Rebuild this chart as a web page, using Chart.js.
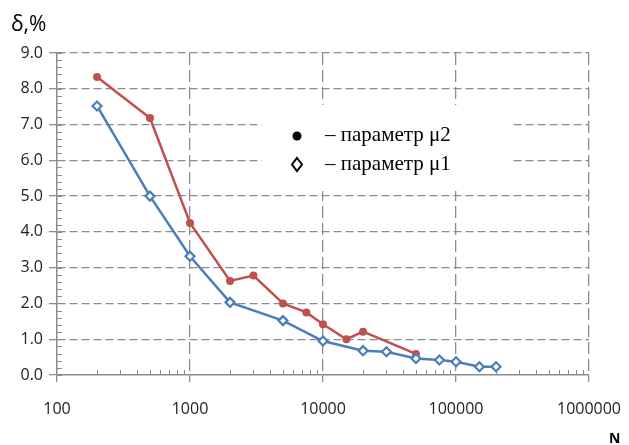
<!DOCTYPE html>
<html>
<head>
<meta charset="utf-8">
<script src="https://cdn.jsdelivr.net/npm/chart.js@4/dist/chart.umd.min.js"></script>
<style>
  html, body { margin: 0; padding: 0; background: #fff; }
  #wrap { position: relative; width: 629px; height: 445px; }
</style>
</head>
<body>
<div id="wrap"><canvas id="chart" width="629" height="445"></canvas></div>
<script>
// N values and delta (%)
const nMu1 = [200, 500, 1000, 2000, 5000, 10000, 20000, 30000, 50000, 75000, 100000, 150000, 200000];
const deltaMu1 = [7.52, 5.0, 3.32, 2.03, 1.52, 0.95, 0.68, 0.65, 0.46, 0.42, 0.37, 0.23, 0.23];

const nMu2 = [200, 500, 1000, 2000, 3000, 5000, 7500, 10000, 15000, 20000, 50000];
const deltaMu2 = [8.33, 7.18, 4.25, 2.63, 2.78, 2.0, 1.75, 1.42, 1.0, 1.21, 0.59];

const xMin = 100;
const xMax = 1000000;
const yMin = 0;
const yMax = 9;

const legendLines = ["– параметр μ2", "– параметр μ1"];
const yTitle = "δ,%";
const xTitle = "N";

const GRID = "#8c8c8c";
const AXIS = "#8c8c8c";
const RED = "#c0504d";
const BLUE = "#4a7ebb";
const TICK_FONT = { family: "'Open Sans', sans-serif", size: 16 };

function toPoints(xs, ys) {
  return xs.map((x, i) => ({ x: x, y: ys[i] }));
}

// minor ticks, legend box and axis titles
const decorations = {
  id: "decorations",
  beforeDatasetsDraw(chart) {
    const ctx = chart.ctx;
    const x = chart.scales.x;
    const y = chart.scales.y;
    const area = chart.chartArea;

    ctx.save();
    ctx.strokeStyle = AXIS;
    ctx.lineWidth = 1;

    // minor ticks on the y axis, every 0.2
    for (let v = yMin; v <= yMax + 1e-9; v += 0.2) {
      const py = Math.round(y.getPixelForValue(v)) + 0.5;
      ctx.beginPath();
      ctx.moveTo(area.left, py);
      ctx.lineTo(area.left + 5, py);
      ctx.stroke();
    }

    // minor ticks on the x axis, 2..9 within each decade
    for (let d = xMin; d < xMax; d *= 10) {
      for (let k = 2; k <= 9; k++) {
        const px = Math.round(x.getPixelForValue(d * k)) + 0.5;
        ctx.beginPath();
        ctx.moveTo(px, area.bottom);
        ctx.lineTo(px, area.bottom - 5);
        ctx.stroke();
      }
    }

    // legend box covers the grid behind it
    ctx.fillStyle = "#ffffff";
    ctx.fillRect(262, 105, 250, 86);
    ctx.restore();
  },
  afterDraw(chart) {
    const ctx = chart.ctx;
    ctx.save();

    // legend
    ctx.fillStyle = "#000";
    ctx.font = "21px 'Liberation Serif', serif";
    ctx.textBaseline = "middle";
    ctx.fillText(legendLines[0], 325, 135);
    ctx.fillText(legendLines[1], 325, 164);

    ctx.beginPath();
    ctx.arc(297, 136, 4.5, 0, Math.PI * 2);
    ctx.fill();

    ctx.strokeStyle = "#000";
    ctx.lineWidth = 2;
    ctx.beginPath();
    ctx.moveTo(297, 158);
    ctx.lineTo(302, 164.5);
    ctx.lineTo(297, 171);
    ctx.lineTo(292, 164.5);
    ctx.closePath();
    ctx.stroke();

    // axis titles
    ctx.font = "21px 'Open Sans', sans-serif";
    ctx.textBaseline = "alphabetic";
    ctx.fillText(yTitle, 11, 31);
    ctx.font = "bold 14px 'Open Sans', sans-serif";
    ctx.fillText(xTitle, 609, 443);
    ctx.restore();
  }
};

new Chart(document.getElementById("chart"), {
  type: "scatter",
  data: {
    datasets: [
      {
        label: "μ1",
        data: toPoints(nMu1, deltaMu1),
        showLine: true,
        borderColor: BLUE,
        backgroundColor: "#ffffff",
        borderWidth: 2.5,
        pointStyle: "rectRot",
        pointRadius: 4.5,
        pointBorderWidth: 2.2,
        pointBorderColor: BLUE,
        pointBackgroundColor: "#ffffff",
        tension: 0
      },
      {
        label: "μ2",
        data: toPoints(nMu2, deltaMu2),
        showLine: true,
        borderColor: RED,
        backgroundColor: RED,
        borderWidth: 2.5,
        pointStyle: "circle",
        pointRadius: 4,
        pointBorderWidth: 0,
        pointBackgroundColor: RED,
        tension: 0
      }
    ]
  },
  options: {
    animation: false,
    responsive: false,
    devicePixelRatio: 1,
    layout: { padding: { top: 53, right: 40, left: 0, bottom: 0 } },
    plugins: {
      legend: { display: false },
      tooltip: { enabled: false }
    },
    scales: {
      x: {
        type: "logarithmic",
        min: xMin,
        max: xMax,
        afterFit(scale) {
          scale.height = 70;
          scale.paddingLeft = 0;
          scale.paddingRight = 0;
        },
        border: { display: true, color: AXIS, width: 1.5, dash: [12, 5] },
        grid: {
          lineWidth: 1.3,
          color: c => (c.tick && c.tick.major && c.tick.value > xMin) ? GRID : "rgba(0,0,0,0)",
          tickColor: c => (c.tick && c.tick.major) ? AXIS : "rgba(0,0,0,0)",
          tickLength: 7,
          tickWidth: 1.3
        },
        ticks: {
          autoSkip: false,
          maxRotation: 0,
          padding: 18,
          color: "#222",
          font: TICK_FONT,
          callback: function (v) {
            const lg = Math.log10(v);
            return Math.abs(lg - Math.round(lg)) < 1e-9 ? String(Math.round(v)) : "";
          }
        }
      },
      y: {
        type: "linear",
        min: yMin,
        max: yMax,
        afterFit(scale) {
          scale.width = 57;
          scale.paddingTop = 0;
          scale.paddingBottom = 0;
        },
        border: { display: true, color: AXIS, width: 1.5, dash: [8, 4] },
        grid: {
          lineWidth: 1.3,
          color: c => (c.tick && c.tick.value > yMin) ? GRID : "rgba(0,0,0,0)",
          tickColor: AXIS,
          tickLength: 8,
          tickWidth: 1.3
        },
        ticks: {
          stepSize: 1,
          padding: 6,
          color: "#222",
          font: TICK_FONT,
          callback: v => v.toFixed(1)
        }
      }
    }
  },
  plugins: [decorations]
});
</script>
</body>
</html>
